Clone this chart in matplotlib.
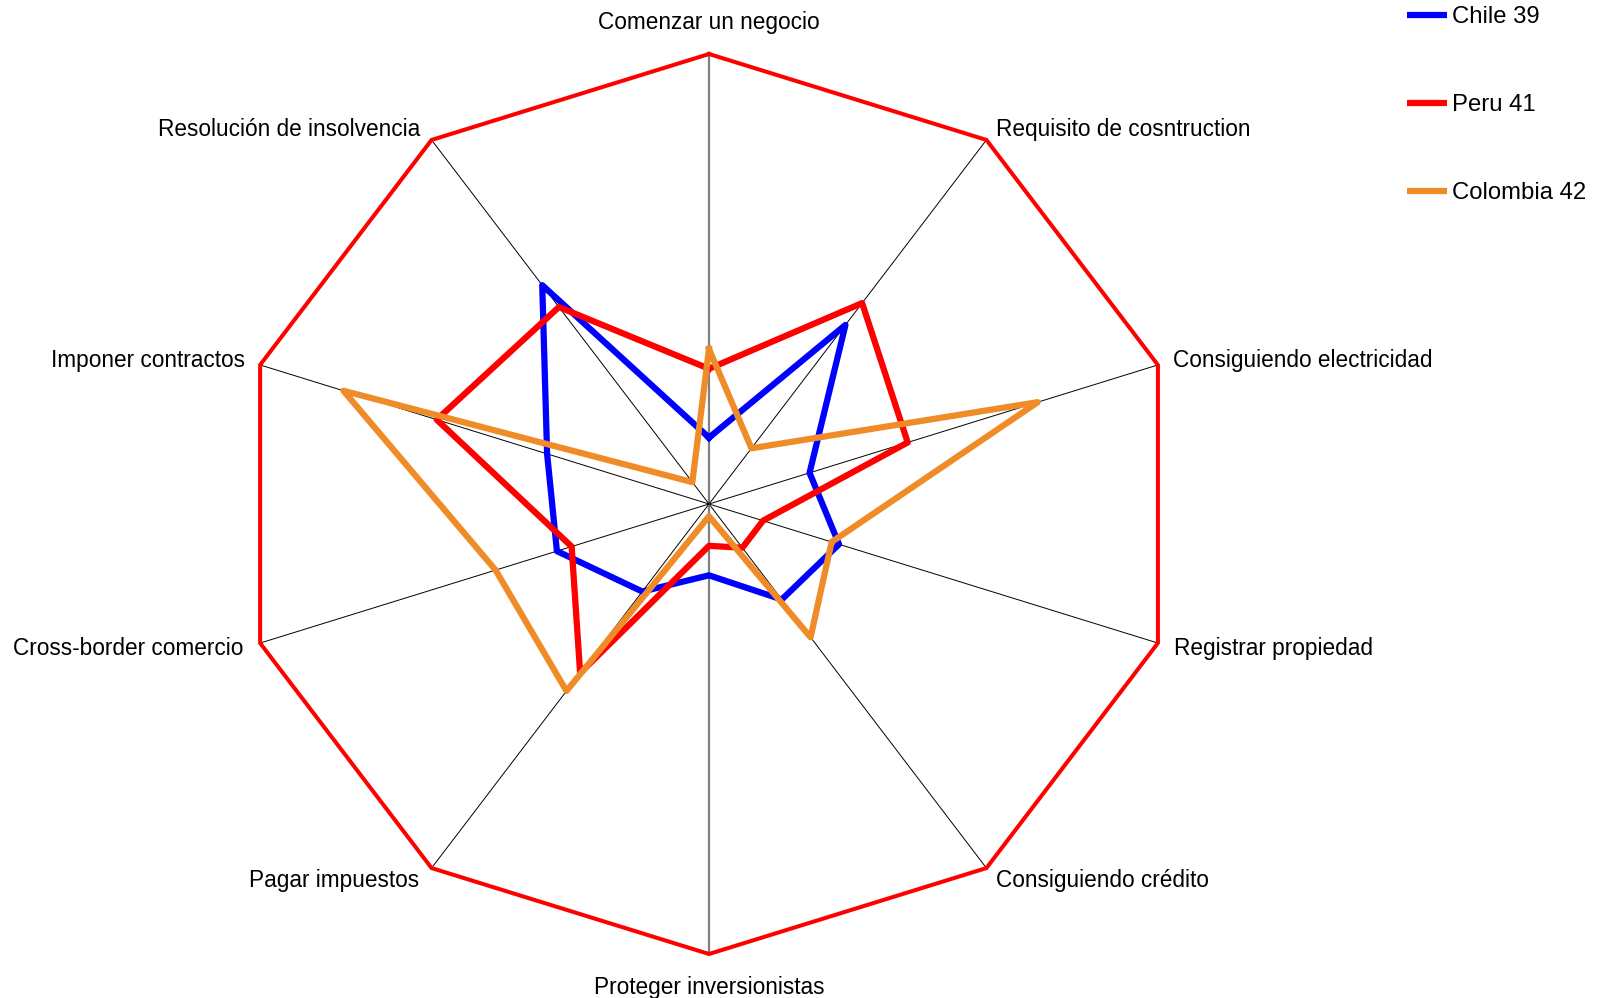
import numpy as np
import matplotlib
matplotlib.use("Agg")
import matplotlib.pyplot as plt

# Doing Business rankings by indicator
categories = [
    "Comenzar un negocio",
    "Requisito de cosntruction",
    "Consiguiendo electricidad",
    "Registrar propiedad",
    "Consiguiendo crédito",
    "Proteger inversionistas",
    "Pagar impuestos",
    "Cross-border comercio",
    "Imponer contractos",
    "Resolución de insolvencia",
]
chile = [27, 90, 41, 53, 48, 29, 44, 62, 66, 110]
peru = [55, 101, 81, 22, 22, 17, 85, 56, 111, 99]
colombia = [63, 28, 134, 50, 67, 5, 94, 87, 149, 11]
series_names = ["Chile 39", "Peru 41", "Colombia 42"]
series_colors = ["#0000FF", "#FF0000", "#F08C28"]
scale_max = 183

plt.rcParams["font.family"] = ["Liberation Sans", "DejaVu Sans"]

W, H = 1605, 998
fig = plt.figure(figsize=(W / 100, H / 100), dpi=100)
ax = fig.add_axes([0, 0, 1, 1])
ax.axis("off")

# plot area geometry (pixels): centre and radii of the slightly stretched radar
cx, cy, rx, ry = 709, 504, 472, 450
ax.set_xlim(-cx / rx * scale_max, (W - cx) / rx * scale_max)
ax.set_ylim(-(H - cy) / ry * scale_max, cy / ry * scale_max)

n = len(categories)
theta = np.arange(n) * 2 * np.pi / n
sx, sy = np.sin(theta), np.cos(theta)


def polygon(vals):
    v = np.asarray(vals, dtype=float)
    x = v * sx
    y = v * sy
    return np.append(x, x[0]), np.append(y, y[0])


# spokes
for i in range(n):
    if i in (0, n // 2):
        ax.plot([0, scale_max * sx[i]], [0, scale_max * sy[i]], color="#808080",
                lw=1.6, zorder=1)
    else:
        ax.plot([0, scale_max * sx[i]], [0, scale_max * sy[i]], color="black",
                lw=0.7, zorder=1)

# outer ring
rxs, rys = polygon([scale_max] * n)
ax.plot(rxs, rys, color="#FF0000", lw=2.9, zorder=2, solid_joinstyle="miter")

# series
handles = []
for vals, name, col in zip([chile, peru, colombia], series_names, series_colors):
    px, py = polygon(vals)
    h, = ax.plot(px, py, color=col, lw=4.5, zorder=3, solid_joinstyle="round",
                 label=name)
    handles.append(h)

# category labels
label_specs = [
    ("center", 0, 25),
    ("left", 10, 4),
    ("left", 15, -2),
    ("left", 16, -12),
    ("left", 10, -19),
    ("center", 0, -40),
    ("right", -12, -19),
    ("right", -17, -12),
    ("right", -15, -2),
    ("right", -11, 4),
]
for i, (cat, (ha, ox, oy)) in enumerate(zip(categories, label_specs)):
    ax.annotate(cat, xy=(scale_max * sx[i], scale_max * sy[i]),
                xytext=(ox, oy), textcoords="offset pixels",
                ha=ha, va="baseline", fontsize=16.3, color="black")

leg = ax.legend(handles=handles, loc="upper left",
                bbox_to_anchor=(1407 / W, 1.0 - 6 / H), bbox_transform=fig.transFigure,
                frameon=False, fontsize=17.2, handlelength=1.68,
                handletextpad=0.2, labelspacing=2.77, borderpad=0,
                borderaxespad=0)
for line in leg.get_lines():
    line.set_solid_capstyle("butt")

fig.savefig("out.png", dpi=100)
